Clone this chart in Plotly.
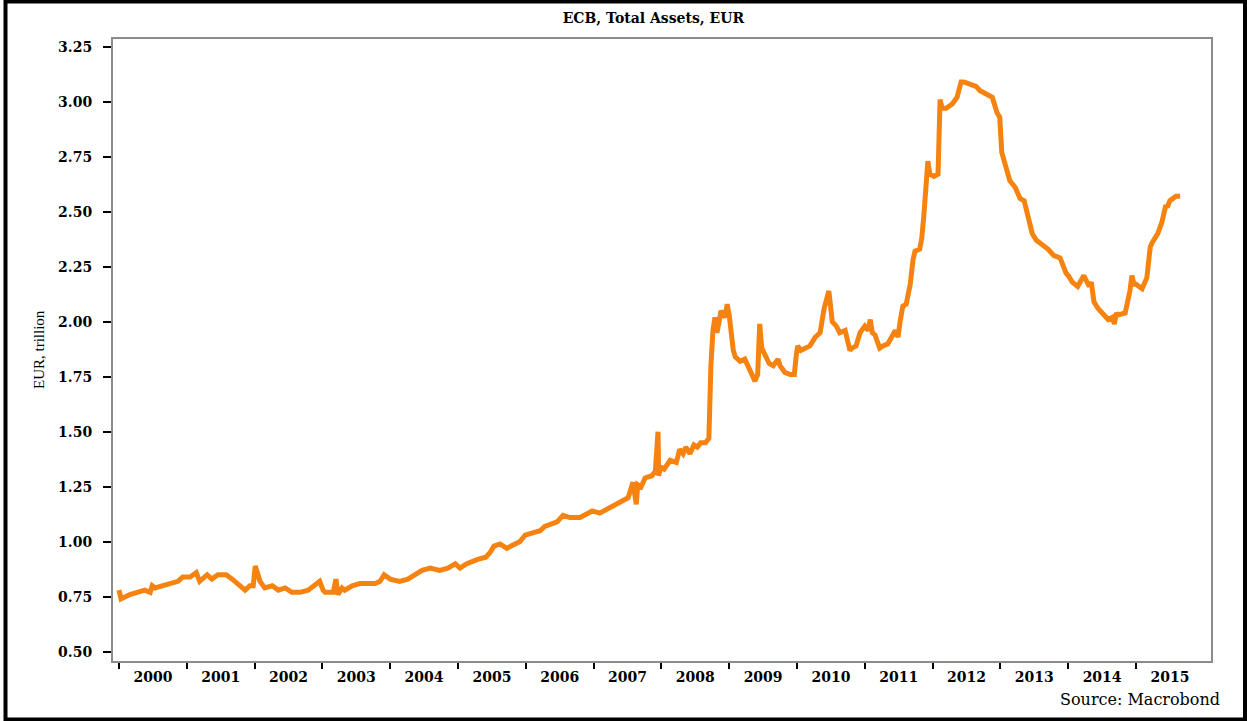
import plotly.graph_objects as go

# Decimal-year positions and ECB total assets (EUR trillion)
years = [
    2000.00, 2000.03, 2000.16, 2000.38, 2000.46, 2000.49, 2000.53, 2000.75, 2000.87, 2000.94,
    2001.05, 2001.14, 2001.19, 2001.30, 2001.37, 2001.46, 2001.58, 2001.67, 2001.78, 2001.86,
    2001.93, 2001.98, 2002.01, 2002.05, 2002.08, 2002.15, 2002.26, 2002.35, 2002.45, 2002.55,
    2002.67, 2002.79, 2002.89, 2002.96, 2003.01, 2003.04, 2003.16, 2003.20, 2003.23, 2003.29,
    2003.33, 2003.44, 2003.55, 2003.67, 2003.78, 2003.85, 2003.91, 2004.00, 2004.14, 2004.26,
    2004.37, 2004.47, 2004.59, 2004.73, 2004.85, 2004.96, 2005.03, 2005.13, 2005.29, 2005.41,
    2005.47, 2005.53, 2005.62, 2005.72, 2005.84, 2005.91, 2005.99, 2006.11, 2006.21, 2006.28,
    2006.39, 2006.46, 2006.55, 2006.65, 2006.80, 2006.87, 2006.98, 2007.09, 2007.21, 2007.33,
    2007.42, 2007.51, 2007.58, 2007.63, 2007.65, 2007.70, 2007.76, 2007.86, 2007.91, 2007.95,
    2007.96, 2007.99, 2008.04, 2008.13, 2008.22, 2008.27, 2008.32, 2008.36, 2008.42, 2008.48,
    2008.53, 2008.58, 2008.65, 2008.70, 2008.73, 2008.76, 2008.79, 2008.82, 2008.85, 2008.88,
    2008.94, 2008.97, 2009.00, 2009.06, 2009.09, 2009.12, 2009.16, 2009.23, 2009.31, 2009.38,
    2009.42, 2009.45, 2009.48, 2009.53, 2009.59, 2009.65, 2009.72, 2009.75, 2009.82, 2009.90,
    2009.96, 2009.99, 2010.01, 2010.06, 2010.12, 2010.19, 2010.27, 2010.34, 2010.40, 2010.43,
    2010.47, 2010.52, 2010.58, 2010.63, 2010.71, 2010.78, 2010.81, 2010.87, 2010.93, 2011.00,
    2011.05, 2011.08, 2011.11, 2011.15, 2011.22, 2011.27, 2011.34, 2011.45, 2011.49, 2011.52,
    2011.56, 2011.61, 2011.67, 2011.71, 2011.74, 2011.81, 2011.84, 2011.87, 2011.93, 2011.96,
    2012.02, 2012.08, 2012.11, 2012.14, 2012.20, 2012.29, 2012.36, 2012.42, 2012.46, 2012.55,
    2012.64, 2012.70, 2012.77, 2012.88, 2012.95, 2012.99, 2013.02, 2013.05, 2013.11, 2013.14,
    2013.22, 2013.29, 2013.35, 2013.44, 2013.47, 2013.53, 2013.61, 2013.70, 2013.79, 2013.88,
    2013.97, 2014.00, 2014.06, 2014.14, 2014.23, 2014.31, 2014.34, 2014.38, 2014.44, 2014.50,
    2014.59, 2014.65, 2014.68, 2014.71, 2014.73, 2014.84, 2014.91, 2014.94, 2014.97, 2015.00,
    2015.09, 2015.16, 2015.21, 2015.24, 2015.32, 2015.38, 2015.44, 2015.46, 2015.50, 2015.59,
    2015.65,
]
assets = [
    0.78, 0.74, 0.76, 0.78, 0.77, 0.80, 0.79, 0.81, 0.82, 0.84,
    0.84, 0.86, 0.82, 0.85, 0.83, 0.85, 0.85, 0.83, 0.80, 0.78,
    0.80, 0.80, 0.89, 0.85, 0.82, 0.79, 0.80, 0.78, 0.79, 0.77,
    0.77, 0.78, 0.80, 0.82, 0.78, 0.77, 0.77, 0.83, 0.76, 0.79,
    0.78, 0.80, 0.81, 0.81, 0.81, 0.82, 0.85, 0.83, 0.82, 0.83,
    0.85, 0.87, 0.88, 0.87, 0.88, 0.90, 0.88, 0.90, 0.92, 0.93,
    0.95, 0.98, 0.99, 0.97, 0.99, 1.00, 1.03, 1.04, 1.05, 1.07,
    1.08, 1.09, 1.12, 1.11, 1.11, 1.12, 1.14, 1.13, 1.15, 1.17,
    1.19, 1.20, 1.27, 1.17, 1.26, 1.25, 1.29, 1.30, 1.32, 1.50,
    1.30, 1.34, 1.33, 1.37, 1.36, 1.42, 1.40, 1.43, 1.40, 1.44,
    1.43, 1.45, 1.45, 1.47, 1.80, 1.96, 2.02, 1.95, 2.00, 2.05,
    2.02, 2.08, 2.03, 1.87, 1.84, 1.83, 1.82, 1.83, 1.78, 1.73,
    1.76, 1.99, 1.88, 1.85, 1.81, 1.80, 1.83, 1.80, 1.77, 1.76,
    1.76, 1.85, 1.89, 1.87, 1.88, 1.89, 1.93, 1.95, 2.06, 2.09,
    2.14, 2.00, 1.98, 1.95, 1.96, 1.87, 1.88, 1.89, 1.95, 1.98,
    1.96, 2.01, 1.95, 1.94, 1.88, 1.89, 1.90, 1.96, 1.93, 2.00,
    2.07, 2.08, 2.17, 2.28, 2.32, 2.33, 2.38, 2.48, 2.73, 2.67,
    2.66, 2.67, 3.01, 2.97, 2.97, 2.99, 3.02, 3.09, 3.09, 3.08,
    3.07, 3.05, 3.04, 3.02, 2.95, 2.93, 2.77, 2.74, 2.67, 2.64,
    2.61, 2.56, 2.55, 2.43, 2.40, 2.37, 2.35, 2.33, 2.30, 2.29,
    2.22, 2.21, 2.18, 2.16, 2.21, 2.16, 2.18, 2.09, 2.06, 2.04,
    2.01, 2.02, 1.99, 2.04, 2.03, 2.04, 2.14, 2.21, 2.17, 2.17,
    2.15, 2.20, 2.34, 2.36, 2.40, 2.45, 2.53, 2.52, 2.55, 2.57,
    2.57,
]
assets = assets[:len(years)]

year_labels = [str(y) for y in range(2000, 2016)]
year_label_pos = [y + 0.5 for y in range(2000, 2016)]
year_ticks = list(range(2000, 2016))
y_ticks = [0.50, 0.75, 1.00, 1.25, 1.50, 1.75, 2.00, 2.25, 2.50, 2.75, 3.00, 3.25]

W, H = 1247, 721
L, R, T, B = 113, 36, 39, 60
PW, PH = W - L - R, H - T - B

def px_x(p):
    return (p - L) / PW

def px_y(p):
    return (H - B - p) / PH

fig = go.Figure()
fig.add_trace(go.Scatter(
    x=years, y=assets, mode="lines",
    line=dict(color="#F68310", width=5),
    hoverinfo="skip", showlegend=False,
))

fig.update_layout(
    width=W, height=H,
    margin=dict(l=L, r=R, t=T, b=B),
    paper_bgcolor="white", plot_bgcolor="white",
    title=dict(
        text="<b>ECB, Total Assets, EUR</b>",
        x=0.524, xanchor="center", y=1 - 18 / H, yanchor="middle",
        font=dict(family="DejaVu Serif", size=14, color="black"),
    ),
    xaxis=dict(
        range=[1999.9115, 2016.106],
        tickmode="array", tickvals=year_label_pos, ticktext=year_labels,
        ticks="", showgrid=False, zeroline=False,
        showline=True, linecolor="#8c8c8c", linewidth=2, mirror=True,
        tickfont=dict(family="DejaVu Serif", size=14, color="black", weight="bold"),
        ticklabelstandoff=2,
        minor=dict(tickmode="array", tickvals=year_ticks, ticks="outside",
                   ticklen=6, tickwidth=2, tickcolor="black", showgrid=False),
    ),
    yaxis=dict(
        range=[0.458, 3.285],
        tickmode="array", tickvals=y_ticks, ticktext=[f"{v:.2f}" for v in y_ticks],
        ticks="outside", ticklen=8, tickwidth=2, tickcolor="black",
        showgrid=False, zeroline=False,
        showline=True, linecolor="#8c8c8c", linewidth=2, mirror=True,
        tickfont=dict(family="DejaVu Serif", size=14, color="black", weight="bold"),
        ticklabelstandoff=8,
    ),
    shapes=[dict(
        type="rect", xref="paper", yref="paper",
        x0=px_x(5.5), x1=px_x(1245), y0=px_y(719.5), y1=px_y(1.5),
        line=dict(color="black", width=4), fillcolor="rgba(0,0,0,0)", layer="below",
    )],
    annotations=[
        dict(text="EUR, trillion", xref="paper", yref="paper",
             x=px_x(39), y=0.5, xanchor="center", yanchor="middle",
             textangle=-90, showarrow=False,
             font=dict(family="Liberation Serif", size=15, color="black")),
        dict(text="Source: Macrobond", xref="paper", yref="paper",
             x=px_x(1222), y=px_y(699), xanchor="right", yanchor="middle",
             showarrow=False,
             font=dict(family="DejaVu Serif", size=16, color="black")),
    ],
)

fig.write_html(
    "out.html",
    config={"displayModeBar": False},
    post_script="document.body.style.margin='0';document.body.style.overflow='hidden';",
)
